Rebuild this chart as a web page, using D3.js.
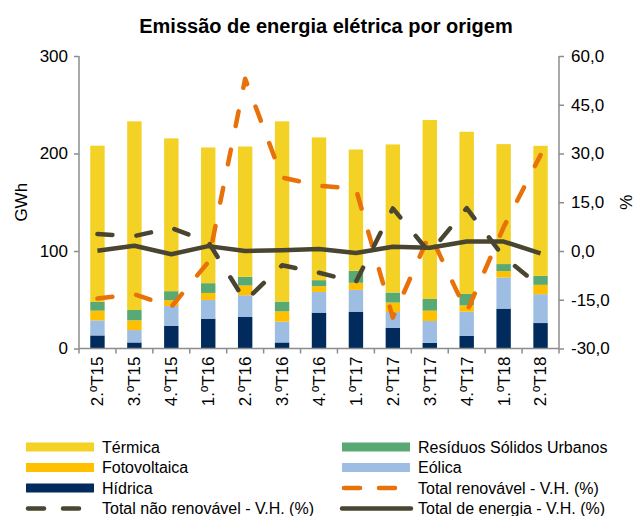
<!DOCTYPE html>
<html>
<head>
<meta charset="utf-8">
<script src="https://cdn.jsdelivr.net/npm/d3@7"></script>
<style>
  body { margin: 0; background: #fff; }
  svg text { font-family: "Liberation Sans", Arial, sans-serif; fill: #000; }
</style>
</head>
<body>
<svg id="chart" width="635" height="516"></svg>
<script>
// --- dados ---
const trimestres = ["2.ºT15","3.ºT15","4.ºT15","1.ºT16","2.ºT16","3.ºT16","4.ºT16","1.ºT17","2.ºT17","3.ºT17","4.ºT17","1.ºT18","2.ºT18"];
const hidrica      = [13.4, 6.2, 23.4, 30.6, 32.3, 6.2, 36.8, 37.8, 21.3, 5.8, 13.1, 40.9, 26.1];
const eolica       = [15.5, 12.7, 20.2, 19.2, 22.3, 21.3, 21.2, 22.3, 16.1, 22.4, 24.7, 32.0, 29.6];
const fotovoltaica = [9.9, 10.0, 5.9, 7.2, 10.0, 10.6, 5.9, 7.3, 9.7, 10.6, 6.5, 6.5, 9.6];
const rsu          = [8.9, 10.6, 9.3, 10.0, 8.9, 10.0, 6.2, 12.3, 10.3, 12.0, 11.7, 7.2, 9.2];
const termica      = [160.3, 193.5, 156.7, 139.2, 133.7, 184.9, 146.4, 124.4, 151.9, 183.5, 166.3, 123.0, 133.4];
const totalRenovavel    = [-14.6, -13.3, -17.2, -3.4, 53.0, 22.6, 20.1, 19.1, -20.5, 5.3, -18.8, 7.3, 29.5];
const totalNaoRenovavel = [5.2, 4.6, 7.1, 2.8, -15.4, -4.4, -6.7, -9.5, 13.1, -0.6, 13.2, -1.8, -11.0];
const totalEnergia      = [0.1, 1.6, -1.0, 1.5, 0.0, 0.2, 0.6, -0.6, 1.3, 1.0, 2.9, 2.9, -0.7];
const ticksGWh = [0, 100, 200, 300];
const ticksPct = [-30, -15, 0, 15, 30, 45, 60];

const series = [
  { nome: "Hídrica", valores: hidrica, cor: "#002B5C" },
  { nome: "Eólica", valores: eolica, cor: "#9DBDE2" },
  { nome: "Fotovoltaica", valores: fotovoltaica, cor: "#FFC000" },
  { nome: "Resíduos Sólidos Urbanos", valores: rsu, cor: "#58A973" },
  { nome: "Térmica", valores: termica, cor: "#F3D125" }
];
const linhas = [
  { nome: "Total renovável - V.H. (%)", valores: totalRenovavel, cor: "#E8710A", dash: "15,24" },
  { nome: "Total não renovável - V.H. (%)", valores: totalNaoRenovavel, cor: "#4A4530", dash: "15,24" },
  { nome: "Total de energia - V.H. (%)", valores: totalEnergia, cor: "#4A4530", dash: null }
];

// tabela para o stack
const tabela = trimestres.map((t, i) => {
  const row = { t };
  series.forEach(s => row[s.nome] = s.valores[i]);
  return row;
});

const svg = d3.select("#chart");
const pL = 79, pR = 559, pT = 56, pB = 348.5;
const axisColor = "#8c8c8c";

const x = d3.scaleBand().domain(trimestres).range([pL, pR])
  .paddingInner(0.61).paddingOuter(0.305);
const step = x.step();
const cx = t => x(t) + x.bandwidth() / 2;
const y = d3.scaleLinear().domain([0, 300]).range([pB, pT]);
const y2 = d3.scaleLinear().domain([-30, 60]).range([pB, pT]);

// --- barras empilhadas ---
const stack = d3.stack().keys(series.map(s => s.nome))(tabela);
svg.append("g").selectAll("g")
  .data(stack)
  .join("g")
    .attr("fill", (d, i) => series[i].cor)
  .selectAll("rect")
  .data(d => d)
  .join("rect")
    .attr("x", d => x(d.data.t))
    .attr("y", d => y(d[1]))
    .attr("width", x.bandwidth())
    .attr("height", d => y(d[0]) - y(d[1]));

// --- eixos ---
const gL = svg.append("g").attr("transform", `translate(${pL},0)`)
  .call(d3.axisLeft(y).tickValues(ticksGWh).tickSize(5).tickPadding(6).tickFormat(d3.format("d")));
const gR = svg.append("g").attr("transform", `translate(${pR},0)`)
  .call(d3.axisRight(y2).tickValues(ticksPct).tickSize(5).tickPadding(7)
    .tickFormat(d => d.toFixed(1).replace(".", ",")));
[gL, gR].forEach(g => {
  g.select(".domain").attr("stroke", axisColor).attr("stroke-width", 1.5)
    .attr("d", `M0,${pT}V${pB}`);
  g.selectAll(".tick line").attr("stroke", axisColor).attr("stroke-width", 1.5);
  g.selectAll(".tick text").style("font-size", "17px");
});

// eixo x com marcas entre categorias
const gX = svg.append("g");
gX.append("line")
  .attr("x1", pL).attr("x2", pR).attr("y1", pB).attr("y2", pB)
  .attr("stroke", axisColor).attr("stroke-width", 1.5);
gX.selectAll("line.tk")
  .data(d3.range(trimestres.length + 1))
  .join("line")
    .attr("class", "tk")
    .attr("x1", i => pL + i * step).attr("x2", i => pL + i * step)
    .attr("y1", pB).attr("y2", pB + 5)
    .attr("stroke", axisColor).attr("stroke-width", 1.5);
gX.selectAll("text")
  .data(trimestres)
  .join("text")
    .attr("transform", d => `translate(${cx(d)},${pB + 8}) rotate(-90)`)
    .attr("text-anchor", "end")
    .attr("dy", "0.35em")
    .style("font-size", "17px")
    .text(d => d);

// --- linhas de variação homóloga ---
const linha = d3.line().x((d, i) => cx(trimestres[i])).y(d => y2(d));
linhas.forEach(l => {
  svg.append("path")
    .datum(l.valores)
    .attr("d", linha)
    .attr("fill", "none")
    .attr("stroke", l.cor)
    .attr("stroke-width", 4.5)
    .attr("stroke-linecap", l.dash ? "round" : "butt")
    .attr("stroke-linejoin", "round")
    .attr("stroke-dasharray", l.dash);
});

// --- títulos ---
svg.append("text")
  .attr("x", 326).attr("y", 33)
  .attr("text-anchor", "middle")
  .style("font-size", "20px")
  .style("font-weight", "bold")
  .text("Emissão de energia elétrica por origem");

svg.append("text")
  .attr("transform", `translate(21,${(pT + pB) / 2}) rotate(-90)`)
  .attr("text-anchor", "middle")
  .attr("dy", "0.35em")
  .style("font-size", "17px")
  .text("GWh");

svg.append("text")
  .attr("transform", `translate(626,${(pT + pB) / 2}) rotate(90)`)
  .attr("text-anchor", "middle")
  .attr("dy", "0.35em")
  .style("font-size", "17px")
  .text("%");

// --- legenda (2 colunas) ---
const itens = [
  { tipo: "bar", s: series[4] }, { tipo: "bar", s: series[3] },
  { tipo: "bar", s: series[2] }, { tipo: "bar", s: series[1] },
  { tipo: "bar", s: series[0] }, { tipo: "line", s: linhas[0] },
  { tipo: "line", s: linhas[1] }, { tipo: "line", s: linhas[2] }
];
const colX = [26, 342], rowY = [447, 467.5, 488, 508.5];
itens.forEach((it, i) => {
  const gx = colX[i % 2], gy = rowY[Math.floor(i / 2)];
  const g = svg.append("g").attr("transform", `translate(${gx},${gy})`);
  if (it.tipo === "bar") {
    g.append("rect").attr("x", 0).attr("y", -4.5).attr("width", 68).attr("height", 9)
      .attr("fill", it.s.cor);
  } else {
    g.append("line").attr("x1", it.s.dash ? 2 : 0).attr("x2", it.s.dash ? 66 : 69)
      .attr("stroke", it.s.cor).attr("stroke-width", 4.5)
      .attr("stroke-linecap", "round")
      .attr("stroke-dasharray", it.s.dash ? "16,19" : null);
  }
  g.append("text")
    .attr("x", 76).attr("dy", "0.35em")
    .style("font-size", "16px")
    .text(it.s.nome);
});
</script>
</body>
</html>
